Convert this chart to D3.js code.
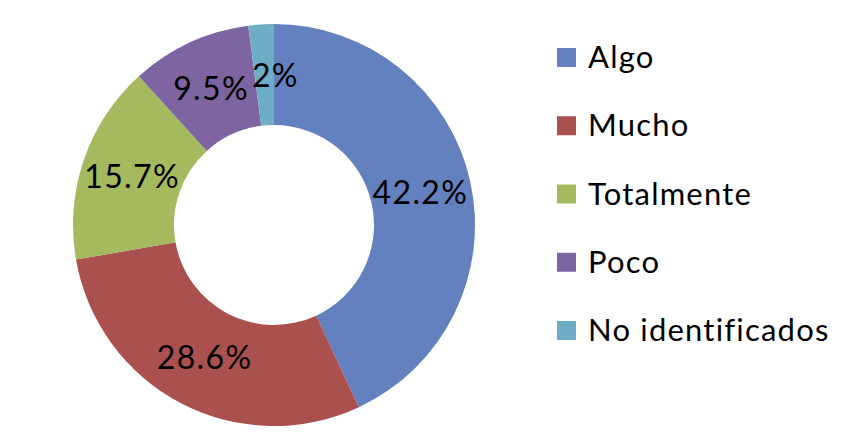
<!DOCTYPE html>
<html><head><meta charset="utf-8">
<script src="https://cdn.jsdelivr.net/npm/d3@7"></script>
<style>body{margin:0;background:#fff}svg{display:block}</style>
</head><body>
<svg id="c" width="852" height="440"></svg>
<script>
const categories = ["Algo","Mucho","Totalmente","Poco","No identificados"];
const values = [42.2, 28.6, 15.7, 9.5, 2];
const labels = ["42.2%","28.6%","15.7%","9.5%","2%"];
const colors = ["#6381BE","#AA514F","#A5BA5E","#7E64A0","#6EADC6"];

const svg = d3.select("#c");
const cx = 274, cy = 225, R = 201, r = 100;
const pie = d3.pie().sort(null).value(d => d)(values);
const arc = d3.arc().innerRadius(r).outerRadius(R);
const g = svg.append("g").attr("transform", `translate(${cx},${cy})`);
g.selectAll("path").data(pie).enter().append("path")
  .attr("d", arc).attr("fill", (d,i) => colors[i]);
const font = "Lato, 'Open Sans', sans-serif";
const lblPos = d3.arc().innerRadius(150).outerRadius(150);
const adj = [[0,0],[0,0],[0,0],[0,0],[11,0]];
g.selectAll("text").data(pie).enter().append("text")
  .attr("x", (d,i) => lblPos.centroid(d)[0] + adj[i][0])
  .attr("y", (d,i) => lblPos.centroid(d)[1] + adj[i][1] + 11.5)
  .attr("text-anchor","middle")
  .attr("font-family", font).attr("font-size", 32).attr("letter-spacing", 1.4).attr("fill","#000")
  .text((d,i) => labels[i]);

const leg = svg.append("g");
const ly = d3.scalePoint().domain(categories).range([68, 341]);
leg.selectAll("rect").data(categories).enter().append("rect")
  .attr("x", 557).attr("y", d => ly(d) - 20).attr("width", 19).attr("height", 19)
  .attr("fill", (d,i) => colors[i]);
leg.selectAll("text").data(categories).enter().append("text")
  .attr("x", 588).attr("y", d => ly(d))
  .attr("font-family", font).attr("font-size", 31).attr("letter-spacing", 1.2).attr("fill","#000")
  .text(d => d);
</script>
</body></html>
